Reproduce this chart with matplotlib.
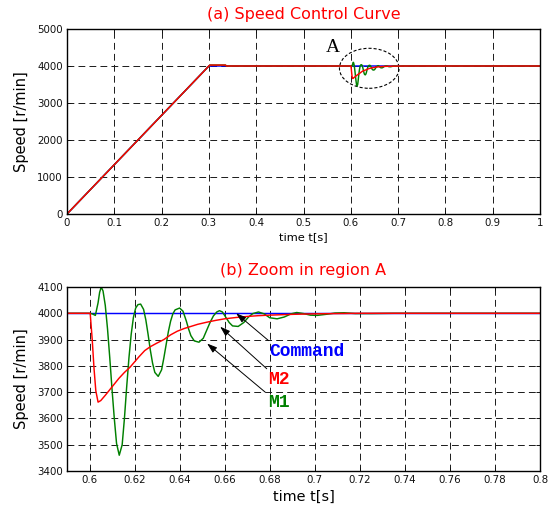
import numpy as np
import matplotlib.pyplot as plt
from matplotlib.patches import Ellipse

# ramp up to the set speed (top plot)
ramp_t = [0.0, 0.3]
ramp_v = [0, 4000]
# small overshoot of the models after the ramp
settle_t = [0.302, 0.335, 0.337]
settle_v = [4025, 4025, 4000]

# load disturbance at t = 0.6 s (region A)
m1_t = [0.600, 0.6012, 0.6026, 0.6038, 0.6045, 0.6052, 0.606, 0.607, 0.608, 0.609,
        0.610, 0.611, 0.612, 0.6132, 0.6145, 0.6155, 0.6165, 0.6175, 0.6185, 0.6195,
        0.6205, 0.6215, 0.6227, 0.624, 0.625, 0.626, 0.627, 0.628, 0.629, 0.6305,
        0.632, 0.633, 0.634, 0.635, 0.636, 0.637, 0.638, 0.640, 0.6415, 0.643,
        0.644, 0.645, 0.6465, 0.6486, 0.6505, 0.652, 0.6535, 0.655, 0.6565, 0.6577,
        0.659, 0.6605, 0.662, 0.6635, 0.666, 0.6685, 0.6705, 0.6725, 0.675, 0.6775,
        0.680, 0.6833, 0.6865, 0.6895, 0.692, 0.695, 0.698, 0.701, 0.705, 0.709,
        0.713, 0.718, 0.725, 0.735]
m1_v = [4000, 3998, 3992, 4040, 4080, 4100, 4085, 4030, 3940, 3830,
        3710, 3600, 3505, 3460, 3500, 3600, 3720, 3830, 3920, 3985,
        4020, 4033, 4035, 4015, 3975, 3920, 3860, 3810, 3775, 3760,
        3785, 3830, 3880, 3930, 3970, 3998, 4013, 4020, 4008, 3970,
        3940, 3915, 3895, 3890, 3905, 3935, 3965, 3990, 4005, 4010,
        4005, 3985, 3965, 3952, 3950, 3965, 3985, 3999, 4005, 3998,
        3983, 3979, 3986, 3998, 4003, 3999, 3993, 3992, 3996, 4001,
        4002, 3999, 3999, 4000]

m2_t = [0.600, 0.6003, 0.6012, 0.602, 0.6028, 0.6038, 0.605, 0.607, 0.610, 0.613,
        0.6155, 0.618, 0.620, 0.622, 0.6245, 0.627, 0.630, 0.633, 0.636, 0.639,
        0.642, 0.645, 0.648, 0.652, 0.656, 0.660, 0.665, 0.670, 0.675, 0.680,
        0.690, 0.700, 0.710, 0.720]
m2_v = [4000, 4000, 3900, 3790, 3705, 3662, 3668, 3688, 3720, 3752,
        3775, 3795, 3815, 3835, 3858, 3873, 3887, 3900, 3918, 3932,
        3942, 3950, 3958, 3966, 3973, 3979, 3984, 3988, 3991, 3993,
        3996, 3998, 3999, 4000]

set_speed = 4000

top_xticks = [0, 0.1, 0.2, 0.3, 0.4, 0.5, 0.6, 0.7, 0.8, 0.9, 1]
top_xlabels = ['0', '0.1', '0.2', '0.3', '0.4', '0.5', '0.6', '0.7', '0.8', '0.9', '1']
top_yticks = [0, 1000, 2000, 3000, 4000, 5000]
bot_xticks = [0.6, 0.62, 0.64, 0.66, 0.68, 0.7, 0.72, 0.74, 0.76, 0.78, 0.8]
bot_xlabels = ['0.6', '0.62', '0.64', '0.66', '0.68', '0.7', '0.72', '0.74', '0.76', '0.78', '0.8']
bot_yticks = [3400, 3500, 3600, 3700, 3800, 3900, 4000, 4100]

blue = '#0000ff'
red = '#ff0000'
green = '#008000'
lw = 1.05

fig = plt.figure(figsize=(5.55, 5.07), dpi=100)
ax1 = fig.add_axes([0.1207, 0.5779, 0.8523, 0.3649])
ax2 = fig.add_axes([0.1207, 0.0710, 0.8523, 0.3629])


def style(ax):
    # dash pattern is scaled by linewidth, so these are ~7px on / 4px off
    ax.grid(True, color='#1a1a1a', linestyle=(0, (7, 4.3)), linewidth=0.7)
    ax.set_axisbelow(True)
    ax.tick_params(direction='in', length=3, width=0.7, labelsize=7.4,
                   top=True, right=True, pad=3, colors='#111111')
    for s in ax.spines.values():
        s.set_linewidth(1.0)
        s.set_color('black')


# ---- (a) full run ----
top_m_t = ramp_t + settle_t + m1_t + [1.0]
top_m1_v = ramp_v + settle_v + m1_v + [set_speed]
top_m2_t = ramp_t + settle_t + m2_t + [1.0]
top_m2_v = ramp_v + settle_v + m2_v + [set_speed]

ax1.plot(ramp_t + [1.0], ramp_v + [set_speed], color=blue, lw=lw)
ax1.plot(top_m_t, top_m1_v, color=green, lw=lw)
ax1.plot(top_m2_t, top_m2_v, color=red, lw=lw)
ax1.set_xlim(0, 1)
ax1.set_ylim(0, 5000)
ax1.set_xticks(top_xticks)
ax1.set_xticklabels(top_xlabels)
ax1.set_yticks(top_yticks)
style(ax1)
ax1.add_patch(Ellipse((0.639, 3938), 0.126, 1081, fill=False, edgecolor='black',
                      linestyle=(0, (2.8, 1.8)), linewidth=0.8))
ax1.text(0.563, 4386, 'A', family='Liberation Serif', fontsize=14,
         ha='center', va='baseline')
ax1.set_title('(a) Speed Control Curve', color=red, fontsize=11.5, pad=7.5)
ax1.set_xlabel('time t[s]', fontsize=8.2, labelpad=3)
ax1.set_ylabel('Speed [r/min]', fontsize=10.5, labelpad=6)

# ---- (b) zoom in region A ----
ax2.plot([0.59, 0.8], [set_speed, set_speed], color=blue, lw=lw)
ax2.plot([0.59] + m1_t + [0.8], [set_speed] + m1_v + [set_speed], color=green, lw=lw)
ax2.plot([0.59] + m2_t + [0.8], [set_speed] + m2_v + [set_speed], color=red, lw=lw)
ax2.set_xlim(0.59, 0.8)
ax2.set_ylim(3400, 4100)
ax2.set_xticks(bot_xticks)
ax2.set_xticklabels(bot_xlabels)
ax2.set_yticks(bot_yticks)
style(ax2)
ax2.set_title('(b) Zoom in region A', color=red, fontsize=11.5, pad=9)
ax2.set_xlabel('time t[s]', fontsize=10.4, labelpad=3.5)
ax2.set_ylabel('Speed [r/min]', fontsize=10.5, labelpad=6)

arrow = dict(arrowstyle='-|>,head_length=0.6,head_width=0.2', color='black', lw=0.7,
             shrinkA=0, shrinkB=0)
ax2.annotate('', xy=(0.6651, 4000), xytext=(0.6795, 3896), arrowprops=arrow)
ax2.annotate('', xy=(0.658, 3949), xytext=(0.6787, 3789), arrowprops=arrow)
ax2.annotate('', xy=(0.6522, 3885), xytext=(0.678, 3700), arrowprops=arrow)
txt = dict(family='Liberation Mono', fontweight='bold', fontsize=13, va='center', ha='left')
ax2.text(0.6799, 3856, 'Command', color=blue, **txt)
ax2.text(0.6793, 3750, 'M2', color=red, **txt)
ax2.text(0.6793, 3660, 'M1', color=green, **txt)

fig.savefig('out.png', dpi=100)
